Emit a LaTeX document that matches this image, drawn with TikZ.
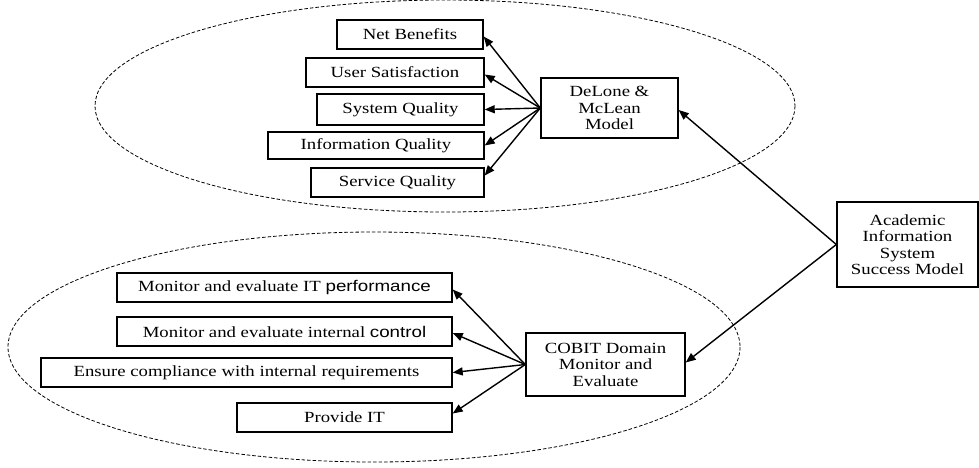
\documentclass[tikz,border=0pt]{standalone}
\usepackage{fontspec}
\setmainfont{Liberation Serif}[FakeStretch=1.21]
\newfontfamily\arialfont{Liberation Sans}[FakeStretch=1.21]
\usetikzlibrary{arrows.meta,calc}
\begin{document}
\begin{tikzpicture}[x=1pt,y=-1pt,
  box/.style={draw,line width=1.4pt,inner sep=0pt,font=\fontsize{15.5}{16.5}\selectfont,align=center},
  conn/.style={line width=1.4pt,-{Triangle[length=10pt,width=8pt]}},
  oval/.style={draw,line width=0.8pt,dash pattern=on 3.5pt off 2pt}]
\useasboundingbox (0,0) rectangle (979,467);
% ellipses
\draw[oval] (445,106) ellipse [x radius=350, y radius=106];
\draw[oval] (374,347) ellipse [x radius=366, y radius=115];
% top boxes
\node[box,minimum width=146,minimum height=29] (nb) at (410,34.5) {Net Benefits};
\node[box,minimum width=178,minimum height=29] (us) at (395,72.5) {User Satisfaction};
\node[box,minimum width=167,minimum height=31] (sq) at (400.5,109.5) {System Quality};
\node[box,minimum width=216,minimum height=27] (iq) at (376,145.5) {Information Quality};
\node[box,minimum width=173,minimum height=29] (svq) at (397.5,182.5) {Service Quality};
\node[box,minimum width=137,minimum height=60] (dm) at (609.5,108) {DeLone \&\\McLean\\Model};
% academic
\node[box,minimum width=141,minimum height=85] (ais) at (907.5,244.5) {Academic\\Information\\System\\Success Model};
% bottom boxes
\node[box,minimum width=335,minimum height=29] (b1) at (284.5,287.5) {Monitor and evaluate IT {\arialfont performance}};
\node[box,minimum width=335,minimum height=29] (b2) at (284.5,331.5) {Monitor and evaluate internal {\arialfont control}};
\node[box,minimum width=411,minimum height=29] (b3) at (246.5,372.5) {Ensure compliance with internal requirements};
\node[box,minimum width=215,minimum height=29] (b4) at (344.5,417.5) {Provide IT};
\node[box,minimum width=159,minimum height=63] (cb) at (605.5,364.5) {COBIT Domain\\Monitor and\\Evaluate};
% connectors top
\draw[conn] (dm.west) -- ($(nb.east)+(0,2)$);
\draw[conn] (dm.west) -- ($(us.east)+(0,2)$);
\draw[conn] (dm.west) -- (sq.east);
\draw[conn] (dm.west) -- (iq.east);
\draw[conn] (dm.west) -- ($(svq.east)+(0,-7)$);
% connectors bottom
\draw[conn] (cb.west) -- ($(b1.east)+(0,2)$);
\draw[conn] (cb.west) -- ($(b2.east)+(0,1.5)$);
\draw[conn] (cb.west) -- (b3.east);
\draw[conn] (cb.west) -- ($(b4.east)+(0,-4)$);
% academic connectors
\draw[conn] (ais.west) -- ($(dm.east)+(0,2)$);
\draw[conn] (ais.west) -- ($(cb.east)+(0,-2)$);
\end{tikzpicture}
\end{document}
